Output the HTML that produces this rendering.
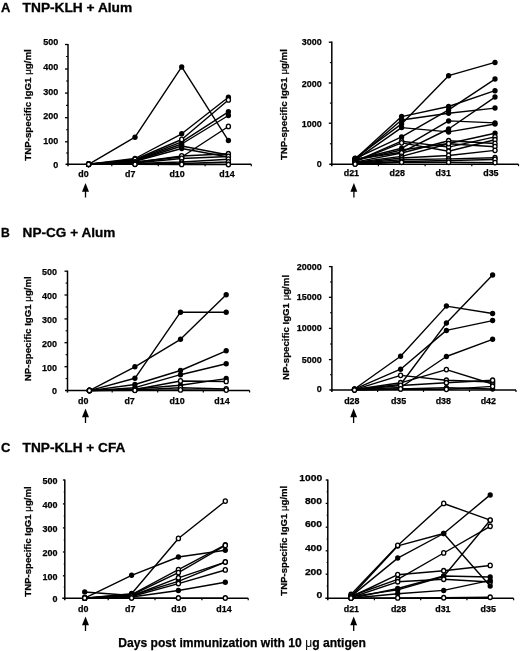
<!DOCTYPE html>
<html><head><meta charset="utf-8"><title>Figure</title>
<style>
html,body{margin:0;padding:0;background:#fff;}
body{width:520px;height:651px;overflow:hidden;font-family:"Liberation Sans", sans-serif;}
svg{display:block;font-family:"Liberation Sans", sans-serif;filter:grayscale(1) blur(0.45px);}
svg text{font-family:"Liberation Sans", sans-serif;fill:#000;}
</style></head><body>
<svg width="520" height="651" viewBox="0 0 520 651">
<rect width="520" height="651" fill="#fff"/>
<text x="0.9" y="11.8" font-size="12.8" font-weight="bold" text-anchor="start" stroke="#000" stroke-width="0.3" textLength="9.4" lengthAdjust="spacingAndGlyphs">A</text>
<text x="22.6" y="11.8" font-size="12.8" font-weight="bold" text-anchor="start" stroke="#000" stroke-width="0.3" textLength="109.6" lengthAdjust="spacingAndGlyphs">TNP-KLH + Alum</text>
<text x="0.9" y="237.1" font-size="12.8" font-weight="bold" text-anchor="start" stroke="#000" stroke-width="0.3" textLength="8.8" lengthAdjust="spacingAndGlyphs">B</text>
<text x="22.6" y="237.1" font-size="12.8" font-weight="bold" text-anchor="start" stroke="#000" stroke-width="0.3" textLength="92.8" lengthAdjust="spacingAndGlyphs">NP-CG + Alum</text>
<text x="0.9" y="452.2" font-size="12.8" font-weight="bold" text-anchor="start" stroke="#000" stroke-width="0.3" textLength="9.4" lengthAdjust="spacingAndGlyphs">C</text>
<text x="22.6" y="452.2" font-size="12.8" font-weight="bold" text-anchor="start" stroke="#000" stroke-width="0.3" textLength="102.8" lengthAdjust="spacingAndGlyphs">TNP-KLH + CFA</text>
<text x="118.2" y="646.6" font-size="12" font-weight="bold" text-anchor="start" stroke="#000" stroke-width="0.25" textLength="247.8" lengthAdjust="spacingAndGlyphs">Days post immunization with 10 <tspan font-weight="normal" stroke="none">&#956;</tspan>g antigen</text>
<line x1="68.0" y1="43.9" x2="68.0" y2="166.3" stroke="#000" stroke-width="1.5"/>
<line x1="65.5" y1="164.3" x2="251.3" y2="164.3" stroke="#000" stroke-width="1.5"/>
<line x1="68.0" y1="44.5" x2="65.0" y2="44.5" stroke="#000" stroke-width="1.3"/>
<line x1="68.0" y1="69.0" x2="65.0" y2="69.0" stroke="#000" stroke-width="1.3"/>
<line x1="68.0" y1="93.1" x2="65.0" y2="93.1" stroke="#000" stroke-width="1.3"/>
<line x1="68.0" y1="117.7" x2="65.0" y2="117.7" stroke="#000" stroke-width="1.3"/>
<line x1="68.0" y1="141.8" x2="65.0" y2="141.8" stroke="#000" stroke-width="1.3"/>
<line x1="68.0" y1="56.5" x2="66.1" y2="56.5" stroke="#000" stroke-width="1.1"/>
<line x1="68.0" y1="81.0" x2="66.1" y2="81.0" stroke="#000" stroke-width="1.1"/>
<line x1="68.0" y1="105.4" x2="66.1" y2="105.4" stroke="#000" stroke-width="1.1"/>
<line x1="68.0" y1="129.8" x2="66.1" y2="129.8" stroke="#000" stroke-width="1.1"/>
<line x1="68.0" y1="153.0" x2="66.1" y2="153.0" stroke="#000" stroke-width="1.1"/>
<line x1="111.8" y1="164.3" x2="111.8" y2="166.3" stroke="#000" stroke-width="1.2"/>
<line x1="158.3" y1="164.3" x2="158.3" y2="166.3" stroke="#000" stroke-width="1.2"/>
<line x1="205.1" y1="164.3" x2="205.1" y2="166.3" stroke="#000" stroke-width="1.2"/>
<line x1="251.3" y1="164.3" x2="251.3" y2="166.3" stroke="#000" stroke-width="1.2"/>
<text x="43.2" y="45.3" font-size="9.81" font-weight="bold" text-anchor="start" stroke="#000" stroke-width="0.25" textLength="15.0" lengthAdjust="spacingAndGlyphs">500</text>
<text x="43.2" y="70.0" font-size="9.81" font-weight="bold" text-anchor="start" stroke="#000" stroke-width="0.25" textLength="15.0" lengthAdjust="spacingAndGlyphs">400</text>
<text x="43.2" y="94.6" font-size="9.81" font-weight="bold" text-anchor="start" stroke="#000" stroke-width="0.25" textLength="15.0" lengthAdjust="spacingAndGlyphs">300</text>
<text x="43.2" y="118.5" font-size="9.81" font-weight="bold" text-anchor="start" stroke="#000" stroke-width="0.25" textLength="15.0" lengthAdjust="spacingAndGlyphs">200</text>
<text x="43.2" y="143.8" font-size="9.81" font-weight="bold" text-anchor="start" stroke="#000" stroke-width="0.25" textLength="15.0" lengthAdjust="spacingAndGlyphs">100</text>
<text x="53.2" y="167.8" font-size="9.81" font-weight="bold" text-anchor="start" stroke="#000" stroke-width="0.25" textLength="5.0" lengthAdjust="spacingAndGlyphs">0</text>
<text x="83.5" y="176.9" font-size="8.9" font-weight="bold" text-anchor="middle" stroke="#000" stroke-width="0.25">d0</text>
<text x="130.2" y="176.9" font-size="8.9" font-weight="bold" text-anchor="middle" stroke="#000" stroke-width="0.25">d7</text>
<text x="177.1" y="176.9" font-size="8.9" font-weight="bold" text-anchor="middle" stroke="#000" stroke-width="0.25">d10</text>
<text x="227.0" y="176.9" font-size="8.9" font-weight="bold" text-anchor="middle" stroke="#000" stroke-width="0.25">d14</text>
<text transform="translate(31.0,105.0) rotate(-90)" font-size="9.7" font-weight="bold" stroke="#000" stroke-width="0.25" text-anchor="middle" textLength="111.5" lengthAdjust="spacingAndGlyphs">TNP-specific IgG1 <tspan font-weight="normal">&#956;</tspan>g/ml</text>
<path d="M88.6 164.3 L135.0 137.2 L181.7 66.9 L228.4 140.6" fill="none" stroke="#000" stroke-width="1.4" stroke-linejoin="round"/>
<ellipse cx="88.6" cy="164.3" rx="2.65" ry="2.75" fill="#000"/>
<ellipse cx="135.0" cy="137.2" rx="2.65" ry="2.75" fill="#000"/>
<ellipse cx="181.7" cy="66.9" rx="2.65" ry="2.75" fill="#000"/>
<ellipse cx="228.4" cy="140.6" rx="2.65" ry="2.75" fill="#000"/>
<path d="M88.6 164.3 L135.0 158.5 L181.7 133.8 L228.4 97.3" fill="none" stroke="#000" stroke-width="1.4" stroke-linejoin="round"/>
<ellipse cx="88.6" cy="164.3" rx="2.65" ry="2.75" fill="#000"/>
<ellipse cx="135.0" cy="158.5" rx="2.65" ry="2.75" fill="#000"/>
<ellipse cx="181.7" cy="133.8" rx="2.65" ry="2.75" fill="#000"/>
<ellipse cx="228.4" cy="97.3" rx="2.65" ry="2.75" fill="#000"/>
<path d="M88.6 164.3 L135.0 160.0 L181.7 141.8 L228.4 111.8" fill="none" stroke="#000" stroke-width="1.4" stroke-linejoin="round"/>
<ellipse cx="88.6" cy="164.3" rx="2.65" ry="2.75" fill="#000"/>
<ellipse cx="135.0" cy="160.0" rx="2.65" ry="2.75" fill="#000"/>
<ellipse cx="181.7" cy="141.8" rx="2.65" ry="2.75" fill="#000"/>
<ellipse cx="228.4" cy="111.8" rx="2.65" ry="2.75" fill="#000"/>
<path d="M88.6 164.3 L135.0 160.5 L181.7 144.0 L228.4 115.5" fill="none" stroke="#000" stroke-width="1.4" stroke-linejoin="round"/>
<ellipse cx="88.6" cy="164.3" rx="2.65" ry="2.75" fill="#000"/>
<ellipse cx="135.0" cy="160.5" rx="2.65" ry="2.75" fill="#000"/>
<ellipse cx="181.7" cy="144.0" rx="2.65" ry="2.75" fill="#000"/>
<ellipse cx="228.4" cy="115.5" rx="2.65" ry="2.75" fill="#000"/>
<path d="M88.6 164.3 L135.0 161.0 L181.7 146.0 L228.4 155.0" fill="none" stroke="#000" stroke-width="1.4" stroke-linejoin="round"/>
<ellipse cx="88.6" cy="164.3" rx="2.65" ry="2.75" fill="#000"/>
<ellipse cx="135.0" cy="161.0" rx="2.65" ry="2.75" fill="#000"/>
<ellipse cx="181.7" cy="146.0" rx="2.65" ry="2.75" fill="#000"/>
<ellipse cx="228.4" cy="155.0" rx="2.65" ry="2.75" fill="#000"/>
<path d="M88.6 164.3 L135.0 161.3 L181.7 148.5 L228.4 157.0" fill="none" stroke="#000" stroke-width="1.4" stroke-linejoin="round"/>
<ellipse cx="88.6" cy="164.3" rx="2.65" ry="2.75" fill="#000"/>
<ellipse cx="135.0" cy="161.3" rx="2.65" ry="2.75" fill="#000"/>
<ellipse cx="181.7" cy="148.5" rx="2.65" ry="2.75" fill="#000"/>
<ellipse cx="228.4" cy="157.0" rx="2.65" ry="2.75" fill="#000"/>
<path d="M88.6 164.3 L135.0 159.5 L181.7 139.5 L228.4 100.0" fill="none" stroke="#000" stroke-width="1.4" stroke-linejoin="round"/>
<ellipse cx="88.6" cy="164.2" rx="2.05" ry="2.25" fill="#fff" stroke="#000" stroke-width="1.35"/>
<ellipse cx="135.0" cy="159.4" rx="2.05" ry="2.25" fill="#fff" stroke="#000" stroke-width="1.35"/>
<ellipse cx="181.7" cy="139.4" rx="2.05" ry="2.25" fill="#fff" stroke="#000" stroke-width="1.35"/>
<ellipse cx="228.4" cy="99.9" rx="2.05" ry="2.25" fill="#fff" stroke="#000" stroke-width="1.35"/>
<path d="M88.6 164.3 L135.0 162.0 L181.7 157.0 L228.4 126.5" fill="none" stroke="#000" stroke-width="1.4" stroke-linejoin="round"/>
<ellipse cx="88.6" cy="164.2" rx="2.05" ry="2.25" fill="#fff" stroke="#000" stroke-width="1.35"/>
<ellipse cx="135.0" cy="161.9" rx="2.05" ry="2.25" fill="#fff" stroke="#000" stroke-width="1.35"/>
<ellipse cx="181.7" cy="156.9" rx="2.05" ry="2.25" fill="#fff" stroke="#000" stroke-width="1.35"/>
<ellipse cx="228.4" cy="126.4" rx="2.05" ry="2.25" fill="#fff" stroke="#000" stroke-width="1.35"/>
<path d="M88.6 164.3 L135.0 162.5 L181.7 156.0 L228.4 153.8" fill="none" stroke="#000" stroke-width="1.4" stroke-linejoin="round"/>
<ellipse cx="88.6" cy="164.2" rx="2.05" ry="2.25" fill="#fff" stroke="#000" stroke-width="1.35"/>
<ellipse cx="135.0" cy="162.4" rx="2.05" ry="2.25" fill="#fff" stroke="#000" stroke-width="1.35"/>
<ellipse cx="181.7" cy="155.9" rx="2.05" ry="2.25" fill="#fff" stroke="#000" stroke-width="1.35"/>
<ellipse cx="228.4" cy="153.7" rx="2.05" ry="2.25" fill="#fff" stroke="#000" stroke-width="1.35"/>
<path d="M88.6 164.3 L135.0 163.0 L181.7 158.5 L228.4 156.5" fill="none" stroke="#000" stroke-width="1.4" stroke-linejoin="round"/>
<ellipse cx="88.6" cy="164.2" rx="2.05" ry="2.25" fill="#fff" stroke="#000" stroke-width="1.35"/>
<ellipse cx="135.0" cy="162.9" rx="2.05" ry="2.25" fill="#fff" stroke="#000" stroke-width="1.35"/>
<ellipse cx="181.7" cy="158.4" rx="2.05" ry="2.25" fill="#fff" stroke="#000" stroke-width="1.35"/>
<ellipse cx="228.4" cy="156.4" rx="2.05" ry="2.25" fill="#fff" stroke="#000" stroke-width="1.35"/>
<path d="M88.6 164.3 L135.0 163.5 L181.7 162.0 L228.4 159.2" fill="none" stroke="#000" stroke-width="1.4" stroke-linejoin="round"/>
<ellipse cx="88.6" cy="164.2" rx="2.05" ry="2.25" fill="#fff" stroke="#000" stroke-width="1.35"/>
<ellipse cx="135.0" cy="163.4" rx="2.05" ry="2.25" fill="#fff" stroke="#000" stroke-width="1.35"/>
<ellipse cx="181.7" cy="161.9" rx="2.05" ry="2.25" fill="#fff" stroke="#000" stroke-width="1.35"/>
<ellipse cx="228.4" cy="159.1" rx="2.05" ry="2.25" fill="#fff" stroke="#000" stroke-width="1.35"/>
<path d="M88.6 164.3 L135.0 164.0 L181.7 163.5 L228.4 162.0" fill="none" stroke="#000" stroke-width="1.4" stroke-linejoin="round"/>
<ellipse cx="88.6" cy="164.2" rx="2.05" ry="2.25" fill="#fff" stroke="#000" stroke-width="1.35"/>
<ellipse cx="135.0" cy="163.9" rx="2.05" ry="2.25" fill="#fff" stroke="#000" stroke-width="1.35"/>
<ellipse cx="181.7" cy="163.4" rx="2.05" ry="2.25" fill="#fff" stroke="#000" stroke-width="1.35"/>
<ellipse cx="228.4" cy="161.9" rx="2.05" ry="2.25" fill="#fff" stroke="#000" stroke-width="1.35"/>
<path d="M88.6 164.3 L135.0 164.3 L181.7 164.5 L228.4 164.6" fill="none" stroke="#000" stroke-width="1.4" stroke-linejoin="round"/>
<ellipse cx="88.6" cy="164.2" rx="2.05" ry="2.25" fill="#fff" stroke="#000" stroke-width="1.35"/>
<ellipse cx="135.0" cy="164.2" rx="2.05" ry="2.25" fill="#fff" stroke="#000" stroke-width="1.35"/>
<ellipse cx="181.7" cy="164.4" rx="2.05" ry="2.25" fill="#fff" stroke="#000" stroke-width="1.35"/>
<ellipse cx="228.4" cy="164.5" rx="2.05" ry="2.25" fill="#fff" stroke="#000" stroke-width="1.35"/>
<path d="M85.5 183.1 L89.0 191.8 L82.0 191.8 Z" fill="#000"/>
<line x1="85.5" y1="190.4" x2="85.5" y2="197.5" stroke="#000" stroke-width="1.3"/>
<line x1="331.8" y1="41.6" x2="331.8" y2="166.2" stroke="#000" stroke-width="1.5"/>
<line x1="329.3" y1="164.2" x2="518.5" y2="164.2" stroke="#000" stroke-width="1.5"/>
<line x1="331.8" y1="42.2" x2="328.8" y2="42.2" stroke="#000" stroke-width="1.3"/>
<line x1="331.8" y1="83.0" x2="328.8" y2="83.0" stroke="#000" stroke-width="1.3"/>
<line x1="331.8" y1="123.2" x2="328.8" y2="123.2" stroke="#000" stroke-width="1.3"/>
<line x1="331.8" y1="62.6" x2="329.9" y2="62.6" stroke="#000" stroke-width="1.1"/>
<line x1="331.8" y1="103.1" x2="329.9" y2="103.1" stroke="#000" stroke-width="1.1"/>
<line x1="331.8" y1="143.8" x2="329.9" y2="143.8" stroke="#000" stroke-width="1.1"/>
<line x1="378.4" y1="164.2" x2="378.4" y2="166.2" stroke="#000" stroke-width="1.2"/>
<line x1="425.1" y1="164.2" x2="425.1" y2="166.2" stroke="#000" stroke-width="1.2"/>
<line x1="471.8" y1="164.2" x2="471.8" y2="166.2" stroke="#000" stroke-width="1.2"/>
<line x1="518.5" y1="164.2" x2="518.5" y2="166.2" stroke="#000" stroke-width="1.2"/>
<text x="301.7" y="45.1" font-size="9.81" font-weight="bold" text-anchor="start" stroke="#000" stroke-width="0.25" textLength="20.0" lengthAdjust="spacingAndGlyphs">3000</text>
<text x="301.7" y="86.8" font-size="9.81" font-weight="bold" text-anchor="start" stroke="#000" stroke-width="0.25" textLength="20.0" lengthAdjust="spacingAndGlyphs">2000</text>
<text x="301.7" y="126.6" font-size="9.81" font-weight="bold" text-anchor="start" stroke="#000" stroke-width="0.25" textLength="20.0" lengthAdjust="spacingAndGlyphs">1000</text>
<text x="316.7" y="167.3" font-size="9.81" font-weight="bold" text-anchor="start" stroke="#000" stroke-width="0.25" textLength="5.0" lengthAdjust="spacingAndGlyphs">0</text>
<text x="351.4" y="176.0" font-size="8.9" font-weight="bold" text-anchor="middle" stroke="#000" stroke-width="0.25">d21</text>
<text x="397.2" y="176.0" font-size="8.9" font-weight="bold" text-anchor="middle" stroke="#000" stroke-width="0.25">d28</text>
<text x="443.2" y="176.0" font-size="8.9" font-weight="bold" text-anchor="middle" stroke="#000" stroke-width="0.25">d31</text>
<text x="490.9" y="176.0" font-size="8.9" font-weight="bold" text-anchor="middle" stroke="#000" stroke-width="0.25">d35</text>
<text transform="translate(287.4,104.6) rotate(-90)" font-size="9.7" font-weight="bold" stroke="#000" stroke-width="0.25" text-anchor="middle" textLength="111" lengthAdjust="spacingAndGlyphs">TNP-specific IgG1 <tspan font-weight="normal">&#956;</tspan>g/ml</text>
<path d="M355.1 158.3 L401.6 123.9 L448.6 75.7 L495.0 62.4" fill="none" stroke="#000" stroke-width="1.4" stroke-linejoin="round"/>
<ellipse cx="355.1" cy="158.3" rx="2.65" ry="2.75" fill="#000"/>
<ellipse cx="401.6" cy="123.9" rx="2.65" ry="2.75" fill="#000"/>
<ellipse cx="448.6" cy="75.7" rx="2.65" ry="2.75" fill="#000"/>
<ellipse cx="495.0" cy="62.4" rx="2.65" ry="2.75" fill="#000"/>
<path d="M355.1 158.6 L401.6 136.9 L448.6 109.9 L495.0 79.1" fill="none" stroke="#000" stroke-width="1.4" stroke-linejoin="round"/>
<ellipse cx="355.1" cy="158.6" rx="2.65" ry="2.75" fill="#000"/>
<ellipse cx="401.6" cy="136.9" rx="2.65" ry="2.75" fill="#000"/>
<ellipse cx="448.6" cy="109.9" rx="2.65" ry="2.75" fill="#000"/>
<ellipse cx="495.0" cy="79.1" rx="2.65" ry="2.75" fill="#000"/>
<path d="M355.1 158.9 L401.6 116.6 L448.6 106.5 L495.0 90.7" fill="none" stroke="#000" stroke-width="1.4" stroke-linejoin="round"/>
<ellipse cx="355.1" cy="158.9" rx="2.65" ry="2.75" fill="#000"/>
<ellipse cx="401.6" cy="116.6" rx="2.65" ry="2.75" fill="#000"/>
<ellipse cx="448.6" cy="106.5" rx="2.65" ry="2.75" fill="#000"/>
<ellipse cx="495.0" cy="90.7" rx="2.65" ry="2.75" fill="#000"/>
<path d="M355.1 159.2 L401.6 152.2 L448.6 129.0 L495.0 97.1" fill="none" stroke="#000" stroke-width="1.4" stroke-linejoin="round"/>
<ellipse cx="355.1" cy="159.2" rx="2.65" ry="2.75" fill="#000"/>
<ellipse cx="401.6" cy="152.2" rx="2.65" ry="2.75" fill="#000"/>
<ellipse cx="448.6" cy="129.0" rx="2.65" ry="2.75" fill="#000"/>
<ellipse cx="495.0" cy="97.1" rx="2.65" ry="2.75" fill="#000"/>
<path d="M355.1 159.5 L401.6 120.0 L448.6 113.3 L495.0 108.1" fill="none" stroke="#000" stroke-width="1.4" stroke-linejoin="round"/>
<ellipse cx="355.1" cy="159.5" rx="2.65" ry="2.75" fill="#000"/>
<ellipse cx="401.6" cy="120.0" rx="2.65" ry="2.75" fill="#000"/>
<ellipse cx="448.6" cy="113.3" rx="2.65" ry="2.75" fill="#000"/>
<ellipse cx="495.0" cy="108.1" rx="2.65" ry="2.75" fill="#000"/>
<path d="M355.1 159.8 L401.6 148.3 L448.6 120.9 L495.0 122.9" fill="none" stroke="#000" stroke-width="1.4" stroke-linejoin="round"/>
<ellipse cx="355.1" cy="159.8" rx="2.65" ry="2.75" fill="#000"/>
<ellipse cx="401.6" cy="148.3" rx="2.65" ry="2.75" fill="#000"/>
<ellipse cx="448.6" cy="120.9" rx="2.65" ry="2.75" fill="#000"/>
<ellipse cx="495.0" cy="122.9" rx="2.65" ry="2.75" fill="#000"/>
<path d="M355.1 160.1 L401.6 127.6 L448.6 131.9 L495.0 124.0" fill="none" stroke="#000" stroke-width="1.4" stroke-linejoin="round"/>
<ellipse cx="355.1" cy="160.1" rx="2.65" ry="2.75" fill="#000"/>
<ellipse cx="401.6" cy="127.6" rx="2.65" ry="2.75" fill="#000"/>
<ellipse cx="448.6" cy="131.9" rx="2.65" ry="2.75" fill="#000"/>
<ellipse cx="495.0" cy="124.0" rx="2.65" ry="2.75" fill="#000"/>
<path d="M355.1 160.4 L401.6 150.0 L448.6 143.5 L495.0 133.2" fill="none" stroke="#000" stroke-width="1.4" stroke-linejoin="round"/>
<ellipse cx="355.1" cy="160.4" rx="2.65" ry="2.75" fill="#000"/>
<ellipse cx="401.6" cy="150.0" rx="2.65" ry="2.75" fill="#000"/>
<ellipse cx="448.6" cy="143.5" rx="2.65" ry="2.75" fill="#000"/>
<ellipse cx="495.0" cy="133.2" rx="2.65" ry="2.75" fill="#000"/>
<path d="M355.1 161.3 L401.6 141.2 L448.6 147.1 L495.0 136.9" fill="none" stroke="#000" stroke-width="1.4" stroke-linejoin="round"/>
<ellipse cx="355.1" cy="161.2" rx="2.05" ry="2.25" fill="#fff" stroke="#000" stroke-width="1.35"/>
<ellipse cx="401.6" cy="141.1" rx="2.05" ry="2.25" fill="#fff" stroke="#000" stroke-width="1.35"/>
<ellipse cx="448.6" cy="147.0" rx="2.05" ry="2.25" fill="#fff" stroke="#000" stroke-width="1.35"/>
<ellipse cx="495.0" cy="136.8" rx="2.05" ry="2.25" fill="#fff" stroke="#000" stroke-width="1.35"/>
<path d="M355.1 161.7 L401.6 142.9 L448.6 151.3 L495.0 139.8" fill="none" stroke="#000" stroke-width="1.4" stroke-linejoin="round"/>
<ellipse cx="355.1" cy="161.6" rx="2.05" ry="2.25" fill="#fff" stroke="#000" stroke-width="1.35"/>
<ellipse cx="401.6" cy="142.8" rx="2.05" ry="2.25" fill="#fff" stroke="#000" stroke-width="1.35"/>
<ellipse cx="448.6" cy="151.2" rx="2.05" ry="2.25" fill="#fff" stroke="#000" stroke-width="1.35"/>
<ellipse cx="495.0" cy="139.7" rx="2.05" ry="2.25" fill="#fff" stroke="#000" stroke-width="1.35"/>
<path d="M355.1 162.1 L401.6 153.0 L448.6 140.8 L495.0 143.5" fill="none" stroke="#000" stroke-width="1.4" stroke-linejoin="round"/>
<ellipse cx="355.1" cy="162.0" rx="2.05" ry="2.25" fill="#fff" stroke="#000" stroke-width="1.35"/>
<ellipse cx="401.6" cy="152.9" rx="2.05" ry="2.25" fill="#fff" stroke="#000" stroke-width="1.35"/>
<ellipse cx="448.6" cy="140.7" rx="2.05" ry="2.25" fill="#fff" stroke="#000" stroke-width="1.35"/>
<ellipse cx="495.0" cy="143.4" rx="2.05" ry="2.25" fill="#fff" stroke="#000" stroke-width="1.35"/>
<path d="M355.1 162.5 L401.6 156.4 L448.6 143.7 L495.0 146.7" fill="none" stroke="#000" stroke-width="1.4" stroke-linejoin="round"/>
<ellipse cx="355.1" cy="162.4" rx="2.05" ry="2.25" fill="#fff" stroke="#000" stroke-width="1.35"/>
<ellipse cx="401.6" cy="156.3" rx="2.05" ry="2.25" fill="#fff" stroke="#000" stroke-width="1.35"/>
<ellipse cx="448.6" cy="143.6" rx="2.05" ry="2.25" fill="#fff" stroke="#000" stroke-width="1.35"/>
<ellipse cx="495.0" cy="146.6" rx="2.05" ry="2.25" fill="#fff" stroke="#000" stroke-width="1.35"/>
<path d="M355.1 163.0 L401.6 158.0 L448.6 155.5 L495.0 150.4" fill="none" stroke="#000" stroke-width="1.4" stroke-linejoin="round"/>
<ellipse cx="355.1" cy="162.9" rx="2.05" ry="2.25" fill="#fff" stroke="#000" stroke-width="1.35"/>
<ellipse cx="401.6" cy="157.9" rx="2.05" ry="2.25" fill="#fff" stroke="#000" stroke-width="1.35"/>
<ellipse cx="448.6" cy="155.4" rx="2.05" ry="2.25" fill="#fff" stroke="#000" stroke-width="1.35"/>
<ellipse cx="495.0" cy="150.3" rx="2.05" ry="2.25" fill="#fff" stroke="#000" stroke-width="1.35"/>
<path d="M355.1 163.4 L401.6 159.8 L448.6 158.9 L495.0 157.8" fill="none" stroke="#000" stroke-width="1.4" stroke-linejoin="round"/>
<ellipse cx="355.1" cy="163.3" rx="2.05" ry="2.25" fill="#fff" stroke="#000" stroke-width="1.35"/>
<ellipse cx="401.6" cy="159.7" rx="2.05" ry="2.25" fill="#fff" stroke="#000" stroke-width="1.35"/>
<ellipse cx="448.6" cy="158.8" rx="2.05" ry="2.25" fill="#fff" stroke="#000" stroke-width="1.35"/>
<ellipse cx="495.0" cy="157.7" rx="2.05" ry="2.25" fill="#fff" stroke="#000" stroke-width="1.35"/>
<path d="M355.1 163.8 L401.6 161.5 L448.6 160.5 L495.0 159.5" fill="none" stroke="#000" stroke-width="1.4" stroke-linejoin="round"/>
<ellipse cx="355.1" cy="163.7" rx="2.05" ry="2.25" fill="#fff" stroke="#000" stroke-width="1.35"/>
<ellipse cx="401.6" cy="161.4" rx="2.05" ry="2.25" fill="#fff" stroke="#000" stroke-width="1.35"/>
<ellipse cx="448.6" cy="160.4" rx="2.05" ry="2.25" fill="#fff" stroke="#000" stroke-width="1.35"/>
<ellipse cx="495.0" cy="159.4" rx="2.05" ry="2.25" fill="#fff" stroke="#000" stroke-width="1.35"/>
<path d="M355.1 164.2 L401.6 162.3 L448.6 162.3 L495.0 162.7" fill="none" stroke="#000" stroke-width="1.4" stroke-linejoin="round"/>
<ellipse cx="355.1" cy="164.1" rx="2.05" ry="2.25" fill="#fff" stroke="#000" stroke-width="1.35"/>
<ellipse cx="401.6" cy="162.2" rx="2.05" ry="2.25" fill="#fff" stroke="#000" stroke-width="1.35"/>
<ellipse cx="448.6" cy="162.2" rx="2.05" ry="2.25" fill="#fff" stroke="#000" stroke-width="1.35"/>
<ellipse cx="495.0" cy="162.6" rx="2.05" ry="2.25" fill="#fff" stroke="#000" stroke-width="1.35"/>
<path d="M353.9 183.1 L357.3 191.8 L350.4 191.8 Z" fill="#000"/>
<line x1="353.9" y1="190.4" x2="353.9" y2="197.5" stroke="#000" stroke-width="1.3"/>
<line x1="67.5" y1="270.6" x2="67.5" y2="392.6" stroke="#000" stroke-width="1.5"/>
<line x1="65.0" y1="390.6" x2="249.6" y2="390.6" stroke="#000" stroke-width="1.5"/>
<line x1="67.5" y1="271.2" x2="64.5" y2="271.2" stroke="#000" stroke-width="1.3"/>
<line x1="67.5" y1="295.0" x2="64.5" y2="295.0" stroke="#000" stroke-width="1.3"/>
<line x1="67.5" y1="318.9" x2="64.5" y2="318.9" stroke="#000" stroke-width="1.3"/>
<line x1="67.5" y1="342.7" x2="64.5" y2="342.7" stroke="#000" stroke-width="1.3"/>
<line x1="67.5" y1="366.7" x2="64.5" y2="366.7" stroke="#000" stroke-width="1.3"/>
<line x1="67.5" y1="283.1" x2="65.6" y2="283.1" stroke="#000" stroke-width="1.1"/>
<line x1="67.5" y1="307.0" x2="65.6" y2="307.0" stroke="#000" stroke-width="1.1"/>
<line x1="67.5" y1="330.8" x2="65.6" y2="330.8" stroke="#000" stroke-width="1.1"/>
<line x1="67.5" y1="354.7" x2="65.6" y2="354.7" stroke="#000" stroke-width="1.1"/>
<line x1="67.5" y1="378.6" x2="65.6" y2="378.6" stroke="#000" stroke-width="1.1"/>
<line x1="112.2" y1="390.6" x2="112.2" y2="392.6" stroke="#000" stroke-width="1.2"/>
<line x1="157.7" y1="390.6" x2="157.7" y2="392.6" stroke="#000" stroke-width="1.2"/>
<line x1="203.3" y1="390.6" x2="203.3" y2="392.6" stroke="#000" stroke-width="1.2"/>
<line x1="249.6" y1="390.6" x2="249.6" y2="392.6" stroke="#000" stroke-width="1.2"/>
<text x="42.0" y="275.4" font-size="9.81" font-weight="bold" text-anchor="start" stroke="#000" stroke-width="0.25" textLength="15.0" lengthAdjust="spacingAndGlyphs">500</text>
<text x="42.0" y="299.1" font-size="9.81" font-weight="bold" text-anchor="start" stroke="#000" stroke-width="0.25" textLength="15.0" lengthAdjust="spacingAndGlyphs">400</text>
<text x="42.0" y="322.8" font-size="9.81" font-weight="bold" text-anchor="start" stroke="#000" stroke-width="0.25" textLength="15.0" lengthAdjust="spacingAndGlyphs">300</text>
<text x="42.0" y="346.6" font-size="9.81" font-weight="bold" text-anchor="start" stroke="#000" stroke-width="0.25" textLength="15.0" lengthAdjust="spacingAndGlyphs">200</text>
<text x="42.0" y="370.5" font-size="9.81" font-weight="bold" text-anchor="start" stroke="#000" stroke-width="0.25" textLength="15.0" lengthAdjust="spacingAndGlyphs">100</text>
<text x="52.0" y="393.5" font-size="9.81" font-weight="bold" text-anchor="start" stroke="#000" stroke-width="0.25" textLength="5.0" lengthAdjust="spacingAndGlyphs">0</text>
<text x="83.2" y="404.3" font-size="8.9" font-weight="bold" text-anchor="middle" stroke="#000" stroke-width="0.25">d0</text>
<text x="129.6" y="404.3" font-size="8.9" font-weight="bold" text-anchor="middle" stroke="#000" stroke-width="0.25">d7</text>
<text x="177.1" y="404.3" font-size="8.9" font-weight="bold" text-anchor="middle" stroke="#000" stroke-width="0.25">d10</text>
<text x="222.0" y="404.3" font-size="8.9" font-weight="bold" text-anchor="middle" stroke="#000" stroke-width="0.25">d14</text>
<text transform="translate(31.0,328.7) rotate(-90)" font-size="9.7" font-weight="bold" stroke="#000" stroke-width="0.25" text-anchor="middle" textLength="105" lengthAdjust="spacingAndGlyphs">NP-specific IgG1 <tspan font-weight="normal">&#956;</tspan>g/ml</text>
<path d="M89.4 390.6 L134.9 366.8 L180.5 339.3 L226.2 294.8" fill="none" stroke="#000" stroke-width="1.4" stroke-linejoin="round"/>
<ellipse cx="89.4" cy="390.6" rx="2.65" ry="2.75" fill="#000"/>
<ellipse cx="134.9" cy="366.8" rx="2.65" ry="2.75" fill="#000"/>
<ellipse cx="180.5" cy="339.3" rx="2.65" ry="2.75" fill="#000"/>
<ellipse cx="226.2" cy="294.8" rx="2.65" ry="2.75" fill="#000"/>
<path d="M89.4 390.6 L134.9 378.3 L180.5 312.2 L226.2 312.2" fill="none" stroke="#000" stroke-width="1.4" stroke-linejoin="round"/>
<ellipse cx="89.4" cy="390.6" rx="2.65" ry="2.75" fill="#000"/>
<ellipse cx="134.9" cy="378.3" rx="2.65" ry="2.75" fill="#000"/>
<ellipse cx="180.5" cy="312.2" rx="2.65" ry="2.75" fill="#000"/>
<ellipse cx="226.2" cy="312.2" rx="2.65" ry="2.75" fill="#000"/>
<path d="M89.4 390.6 L134.9 384.5 L180.5 370.5 L226.2 350.8" fill="none" stroke="#000" stroke-width="1.4" stroke-linejoin="round"/>
<ellipse cx="89.4" cy="390.6" rx="2.65" ry="2.75" fill="#000"/>
<ellipse cx="134.9" cy="384.5" rx="2.65" ry="2.75" fill="#000"/>
<ellipse cx="180.5" cy="370.5" rx="2.65" ry="2.75" fill="#000"/>
<ellipse cx="226.2" cy="350.8" rx="2.65" ry="2.75" fill="#000"/>
<path d="M89.4 390.6 L134.9 387.7 L180.5 374.7 L226.2 363.8" fill="none" stroke="#000" stroke-width="1.4" stroke-linejoin="round"/>
<ellipse cx="89.4" cy="390.6" rx="2.65" ry="2.75" fill="#000"/>
<ellipse cx="134.9" cy="387.7" rx="2.65" ry="2.75" fill="#000"/>
<ellipse cx="180.5" cy="374.7" rx="2.65" ry="2.75" fill="#000"/>
<ellipse cx="226.2" cy="363.8" rx="2.65" ry="2.75" fill="#000"/>
<path d="M89.4 390.6 L134.9 389.0 L180.5 385.2 L226.2 378.6" fill="none" stroke="#000" stroke-width="1.4" stroke-linejoin="round"/>
<ellipse cx="89.4" cy="390.6" rx="2.65" ry="2.75" fill="#000"/>
<ellipse cx="134.9" cy="389.0" rx="2.65" ry="2.75" fill="#000"/>
<ellipse cx="180.5" cy="385.2" rx="2.65" ry="2.75" fill="#000"/>
<ellipse cx="226.2" cy="378.6" rx="2.65" ry="2.75" fill="#000"/>
<path d="M89.4 390.6 L134.9 389.5 L180.5 381.0 L226.2 381.5" fill="none" stroke="#000" stroke-width="1.4" stroke-linejoin="round"/>
<ellipse cx="89.4" cy="390.5" rx="2.05" ry="2.25" fill="#fff" stroke="#000" stroke-width="1.35"/>
<ellipse cx="134.9" cy="389.4" rx="2.05" ry="2.25" fill="#fff" stroke="#000" stroke-width="1.35"/>
<ellipse cx="180.5" cy="380.9" rx="2.05" ry="2.25" fill="#fff" stroke="#000" stroke-width="1.35"/>
<ellipse cx="226.2" cy="381.4" rx="2.05" ry="2.25" fill="#fff" stroke="#000" stroke-width="1.35"/>
<path d="M89.4 390.6 L134.9 390.0 L180.5 387.7 L226.2 389.0" fill="none" stroke="#000" stroke-width="1.4" stroke-linejoin="round"/>
<ellipse cx="89.4" cy="390.5" rx="2.05" ry="2.25" fill="#fff" stroke="#000" stroke-width="1.35"/>
<ellipse cx="134.9" cy="389.9" rx="2.05" ry="2.25" fill="#fff" stroke="#000" stroke-width="1.35"/>
<ellipse cx="180.5" cy="387.6" rx="2.05" ry="2.25" fill="#fff" stroke="#000" stroke-width="1.35"/>
<ellipse cx="226.2" cy="388.9" rx="2.05" ry="2.25" fill="#fff" stroke="#000" stroke-width="1.35"/>
<path d="M89.4 390.6 L134.9 390.4 L180.5 390.0 L226.2 390.2" fill="none" stroke="#000" stroke-width="1.4" stroke-linejoin="round"/>
<ellipse cx="89.4" cy="390.5" rx="2.05" ry="2.25" fill="#fff" stroke="#000" stroke-width="1.35"/>
<ellipse cx="134.9" cy="390.3" rx="2.05" ry="2.25" fill="#fff" stroke="#000" stroke-width="1.35"/>
<ellipse cx="180.5" cy="389.9" rx="2.05" ry="2.25" fill="#fff" stroke="#000" stroke-width="1.35"/>
<ellipse cx="226.2" cy="390.1" rx="2.05" ry="2.25" fill="#fff" stroke="#000" stroke-width="1.35"/>
<path d="M85.5 408.6 L89.0 417.3 L82.0 417.3 Z" fill="#000"/>
<line x1="85.5" y1="415.9" x2="85.5" y2="423.0" stroke="#000" stroke-width="1.3"/>
<line x1="331.9" y1="266.0" x2="331.9" y2="391.9" stroke="#000" stroke-width="1.5"/>
<line x1="329.4" y1="389.9" x2="516.0" y2="389.9" stroke="#000" stroke-width="1.5"/>
<line x1="331.9" y1="266.6" x2="328.9" y2="266.6" stroke="#000" stroke-width="1.3"/>
<line x1="331.9" y1="297.3" x2="328.9" y2="297.3" stroke="#000" stroke-width="1.3"/>
<line x1="331.9" y1="328.4" x2="328.9" y2="328.4" stroke="#000" stroke-width="1.3"/>
<line x1="331.9" y1="359.6" x2="328.9" y2="359.6" stroke="#000" stroke-width="1.3"/>
<line x1="331.9" y1="282.0" x2="330.0" y2="282.0" stroke="#000" stroke-width="1.1"/>
<line x1="331.9" y1="312.8" x2="330.0" y2="312.8" stroke="#000" stroke-width="1.1"/>
<line x1="331.9" y1="344.0" x2="330.0" y2="344.0" stroke="#000" stroke-width="1.1"/>
<line x1="331.9" y1="374.8" x2="330.0" y2="374.8" stroke="#000" stroke-width="1.1"/>
<line x1="377.6" y1="389.9" x2="377.6" y2="391.9" stroke="#000" stroke-width="1.2"/>
<line x1="423.5" y1="389.9" x2="423.5" y2="391.9" stroke="#000" stroke-width="1.2"/>
<line x1="469.5" y1="389.9" x2="469.5" y2="391.9" stroke="#000" stroke-width="1.2"/>
<line x1="516.0" y1="389.9" x2="516.0" y2="391.9" stroke="#000" stroke-width="1.2"/>
<text x="296.7" y="270.1" font-size="9.81" font-weight="bold" text-anchor="start" stroke="#000" stroke-width="0.25" textLength="25.0" lengthAdjust="spacingAndGlyphs">20000</text>
<text x="296.7" y="300.3" font-size="9.81" font-weight="bold" text-anchor="start" stroke="#000" stroke-width="0.25" textLength="25.0" lengthAdjust="spacingAndGlyphs">15000</text>
<text x="296.7" y="331.1" font-size="9.81" font-weight="bold" text-anchor="start" stroke="#000" stroke-width="0.25" textLength="25.0" lengthAdjust="spacingAndGlyphs">10000</text>
<text x="301.7" y="362.5" font-size="9.81" font-weight="bold" text-anchor="start" stroke="#000" stroke-width="0.25" textLength="20.0" lengthAdjust="spacingAndGlyphs">5000</text>
<text x="316.7" y="392.3" font-size="9.81" font-weight="bold" text-anchor="start" stroke="#000" stroke-width="0.25" textLength="5.0" lengthAdjust="spacingAndGlyphs">0</text>
<text x="351.8" y="404.1" font-size="8.9" font-weight="bold" text-anchor="middle" stroke="#000" stroke-width="0.25">d28</text>
<text x="398.6" y="404.1" font-size="8.9" font-weight="bold" text-anchor="middle" stroke="#000" stroke-width="0.25">d35</text>
<text x="443.3" y="404.1" font-size="8.9" font-weight="bold" text-anchor="middle" stroke="#000" stroke-width="0.25">d38</text>
<text x="488.3" y="404.1" font-size="8.9" font-weight="bold" text-anchor="middle" stroke="#000" stroke-width="0.25">d42</text>
<text transform="translate(288.6,327.4) rotate(-90)" font-size="9.7" font-weight="bold" stroke="#000" stroke-width="0.25" text-anchor="middle" textLength="105" lengthAdjust="spacingAndGlyphs">NP-specific IgG1 <tspan font-weight="normal">&#956;</tspan>g/ml</text>
<path d="M354.5 389.0 L400.6 356.2 L446.4 306.1 L492.6 313.5" fill="none" stroke="#000" stroke-width="1.4" stroke-linejoin="round"/>
<ellipse cx="354.5" cy="389.0" rx="2.65" ry="2.75" fill="#000"/>
<ellipse cx="400.6" cy="356.2" rx="2.65" ry="2.75" fill="#000"/>
<ellipse cx="446.4" cy="306.1" rx="2.65" ry="2.75" fill="#000"/>
<ellipse cx="492.6" cy="313.5" rx="2.65" ry="2.75" fill="#000"/>
<path d="M354.5 389.2 L400.6 369.2 L446.4 330.4 L492.6 320.6" fill="none" stroke="#000" stroke-width="1.4" stroke-linejoin="round"/>
<ellipse cx="354.5" cy="389.2" rx="2.65" ry="2.75" fill="#000"/>
<ellipse cx="400.6" cy="369.2" rx="2.65" ry="2.75" fill="#000"/>
<ellipse cx="446.4" cy="330.4" rx="2.65" ry="2.75" fill="#000"/>
<ellipse cx="492.6" cy="320.6" rx="2.65" ry="2.75" fill="#000"/>
<path d="M354.5 389.4 L400.6 384.5 L446.4 323.1 L492.6 275.1" fill="none" stroke="#000" stroke-width="1.4" stroke-linejoin="round"/>
<ellipse cx="354.5" cy="389.4" rx="2.65" ry="2.75" fill="#000"/>
<ellipse cx="400.6" cy="384.5" rx="2.65" ry="2.75" fill="#000"/>
<ellipse cx="446.4" cy="323.1" rx="2.65" ry="2.75" fill="#000"/>
<ellipse cx="492.6" cy="275.1" rx="2.65" ry="2.75" fill="#000"/>
<path d="M354.5 389.6 L400.6 387.5 L446.4 356.5 L492.6 339.3" fill="none" stroke="#000" stroke-width="1.4" stroke-linejoin="round"/>
<ellipse cx="354.5" cy="389.6" rx="2.65" ry="2.75" fill="#000"/>
<ellipse cx="400.6" cy="387.5" rx="2.65" ry="2.75" fill="#000"/>
<ellipse cx="446.4" cy="356.5" rx="2.65" ry="2.75" fill="#000"/>
<ellipse cx="492.6" cy="339.3" rx="2.65" ry="2.75" fill="#000"/>
<path d="M354.5 389.8 L400.6 389.0 L446.4 387.7 L492.6 389.0" fill="none" stroke="#000" stroke-width="1.4" stroke-linejoin="round"/>
<ellipse cx="354.5" cy="389.8" rx="2.65" ry="2.75" fill="#000"/>
<ellipse cx="400.6" cy="389.0" rx="2.65" ry="2.75" fill="#000"/>
<ellipse cx="446.4" cy="387.7" rx="2.65" ry="2.75" fill="#000"/>
<ellipse cx="492.6" cy="389.0" rx="2.65" ry="2.75" fill="#000"/>
<path d="M354.5 389.5 L400.6 382.8 L446.4 369.7 L492.6 384.0" fill="none" stroke="#000" stroke-width="1.4" stroke-linejoin="round"/>
<ellipse cx="354.5" cy="389.4" rx="2.05" ry="2.25" fill="#fff" stroke="#000" stroke-width="1.35"/>
<ellipse cx="400.6" cy="382.7" rx="2.05" ry="2.25" fill="#fff" stroke="#000" stroke-width="1.35"/>
<ellipse cx="446.4" cy="369.6" rx="2.05" ry="2.25" fill="#fff" stroke="#000" stroke-width="1.35"/>
<ellipse cx="492.6" cy="383.9" rx="2.05" ry="2.25" fill="#fff" stroke="#000" stroke-width="1.35"/>
<path d="M354.5 389.7 L400.6 375.4 L446.4 380.3 L492.6 382.0" fill="none" stroke="#000" stroke-width="1.4" stroke-linejoin="round"/>
<ellipse cx="354.5" cy="389.6" rx="2.05" ry="2.25" fill="#fff" stroke="#000" stroke-width="1.35"/>
<ellipse cx="400.6" cy="375.3" rx="2.05" ry="2.25" fill="#fff" stroke="#000" stroke-width="1.35"/>
<ellipse cx="446.4" cy="380.2" rx="2.05" ry="2.25" fill="#fff" stroke="#000" stroke-width="1.35"/>
<ellipse cx="492.6" cy="381.9" rx="2.05" ry="2.25" fill="#fff" stroke="#000" stroke-width="1.35"/>
<path d="M354.5 389.9 L400.6 385.5 L446.4 382.8 L492.6 380.3" fill="none" stroke="#000" stroke-width="1.4" stroke-linejoin="round"/>
<ellipse cx="354.5" cy="389.8" rx="2.05" ry="2.25" fill="#fff" stroke="#000" stroke-width="1.35"/>
<ellipse cx="400.6" cy="385.4" rx="2.05" ry="2.25" fill="#fff" stroke="#000" stroke-width="1.35"/>
<ellipse cx="446.4" cy="382.7" rx="2.05" ry="2.25" fill="#fff" stroke="#000" stroke-width="1.35"/>
<ellipse cx="492.6" cy="380.2" rx="2.05" ry="2.25" fill="#fff" stroke="#000" stroke-width="1.35"/>
<path d="M354.5 390.1 L400.6 389.0 L446.4 389.4 L492.6 386.4" fill="none" stroke="#000" stroke-width="1.4" stroke-linejoin="round"/>
<ellipse cx="354.5" cy="390.0" rx="2.05" ry="2.25" fill="#fff" stroke="#000" stroke-width="1.35"/>
<ellipse cx="400.6" cy="388.9" rx="2.05" ry="2.25" fill="#fff" stroke="#000" stroke-width="1.35"/>
<ellipse cx="446.4" cy="389.3" rx="2.05" ry="2.25" fill="#fff" stroke="#000" stroke-width="1.35"/>
<ellipse cx="492.6" cy="386.3" rx="2.05" ry="2.25" fill="#fff" stroke="#000" stroke-width="1.35"/>
<path d="M353.6 408.6 L357.1 417.3 L350.2 417.3 Z" fill="#000"/>
<line x1="353.6" y1="415.9" x2="353.6" y2="423.0" stroke="#000" stroke-width="1.3"/>
<line x1="64.8" y1="479.4" x2="64.8" y2="600.3" stroke="#000" stroke-width="1.5"/>
<line x1="62.3" y1="598.3" x2="248.2" y2="598.3" stroke="#000" stroke-width="1.5"/>
<line x1="64.8" y1="480.0" x2="62.9" y2="480.0" stroke="#000" stroke-width="1.3"/>
<line x1="64.8" y1="503.9" x2="62.9" y2="503.9" stroke="#000" stroke-width="1.3"/>
<line x1="64.8" y1="527.9" x2="62.9" y2="527.9" stroke="#000" stroke-width="1.3"/>
<line x1="64.8" y1="552.0" x2="62.9" y2="552.0" stroke="#000" stroke-width="1.3"/>
<line x1="64.8" y1="575.8" x2="62.9" y2="575.8" stroke="#000" stroke-width="1.3"/>
<line x1="64.8" y1="492.0" x2="63.7" y2="492.0" stroke="#000" stroke-width="1.1"/>
<line x1="64.8" y1="516.0" x2="63.7" y2="516.0" stroke="#000" stroke-width="1.1"/>
<line x1="64.8" y1="540.0" x2="63.7" y2="540.0" stroke="#000" stroke-width="1.1"/>
<line x1="64.8" y1="564.0" x2="63.7" y2="564.0" stroke="#000" stroke-width="1.1"/>
<line x1="64.8" y1="587.0" x2="63.7" y2="587.0" stroke="#000" stroke-width="1.1"/>
<line x1="108.2" y1="598.3" x2="108.2" y2="600.3" stroke="#000" stroke-width="1.2"/>
<line x1="155.0" y1="598.3" x2="155.0" y2="600.3" stroke="#000" stroke-width="1.2"/>
<line x1="201.9" y1="598.3" x2="201.9" y2="600.3" stroke="#000" stroke-width="1.2"/>
<line x1="248.2" y1="598.3" x2="248.2" y2="600.3" stroke="#000" stroke-width="1.2"/>
<text x="42.6" y="484.4" font-size="9.81" font-weight="bold" text-anchor="start" stroke="#000" stroke-width="0.25" textLength="15.0" lengthAdjust="spacingAndGlyphs">500</text>
<text x="42.6" y="508.0" font-size="9.81" font-weight="bold" text-anchor="start" stroke="#000" stroke-width="0.25" textLength="15.0" lengthAdjust="spacingAndGlyphs">400</text>
<text x="42.6" y="531.9" font-size="9.81" font-weight="bold" text-anchor="start" stroke="#000" stroke-width="0.25" textLength="15.0" lengthAdjust="spacingAndGlyphs">300</text>
<text x="42.6" y="556.0" font-size="9.81" font-weight="bold" text-anchor="start" stroke="#000" stroke-width="0.25" textLength="15.0" lengthAdjust="spacingAndGlyphs">200</text>
<text x="42.6" y="580.3" font-size="9.81" font-weight="bold" text-anchor="start" stroke="#000" stroke-width="0.25" textLength="15.0" lengthAdjust="spacingAndGlyphs">100</text>
<text x="52.6" y="602.4" font-size="9.81" font-weight="bold" text-anchor="start" stroke="#000" stroke-width="0.25" textLength="5.0" lengthAdjust="spacingAndGlyphs">0</text>
<text x="83.2" y="612.1" font-size="8.9" font-weight="bold" text-anchor="middle" stroke="#000" stroke-width="0.25">d0</text>
<text x="130.3" y="612.1" font-size="8.9" font-weight="bold" text-anchor="middle" stroke="#000" stroke-width="0.25">d7</text>
<text x="178.8" y="612.1" font-size="8.9" font-weight="bold" text-anchor="middle" stroke="#000" stroke-width="0.25">d10</text>
<text x="224.0" y="612.1" font-size="8.9" font-weight="bold" text-anchor="middle" stroke="#000" stroke-width="0.25">d14</text>
<text transform="translate(31.0,541.5) rotate(-90)" font-size="9.7" font-weight="bold" stroke="#000" stroke-width="0.25" text-anchor="middle" textLength="110.5" lengthAdjust="spacingAndGlyphs">TNP-specific IgG1 <tspan font-weight="normal">&#956;</tspan>g/ml</text>
<path d="M84.7 598.1 L131.6 575.3 L178.4 557.0 L225.3 550.3" fill="none" stroke="#000" stroke-width="1.4" stroke-linejoin="round"/>
<ellipse cx="84.7" cy="598.1" rx="2.65" ry="2.75" fill="#000"/>
<ellipse cx="131.6" cy="575.3" rx="2.65" ry="2.75" fill="#000"/>
<ellipse cx="178.4" cy="557.0" rx="2.65" ry="2.75" fill="#000"/>
<ellipse cx="225.3" cy="550.3" rx="2.65" ry="2.75" fill="#000"/>
<path d="M84.7 592.0 L131.6 595.5 L178.4 581.3 L225.3 562.1" fill="none" stroke="#000" stroke-width="1.4" stroke-linejoin="round"/>
<ellipse cx="84.7" cy="592.0" rx="2.65" ry="2.75" fill="#000"/>
<ellipse cx="131.6" cy="595.5" rx="2.65" ry="2.75" fill="#000"/>
<ellipse cx="178.4" cy="581.3" rx="2.65" ry="2.75" fill="#000"/>
<ellipse cx="225.3" cy="562.1" rx="2.65" ry="2.75" fill="#000"/>
<path d="M84.7 598.1 L131.6 597.0 L178.4 590.5 L225.3 582.3" fill="none" stroke="#000" stroke-width="1.4" stroke-linejoin="round"/>
<ellipse cx="84.7" cy="598.1" rx="2.65" ry="2.75" fill="#000"/>
<ellipse cx="131.6" cy="597.0" rx="2.65" ry="2.75" fill="#000"/>
<ellipse cx="178.4" cy="590.5" rx="2.65" ry="2.75" fill="#000"/>
<ellipse cx="225.3" cy="582.3" rx="2.65" ry="2.75" fill="#000"/>
<path d="M84.7 598.1 L131.6 593.8 L178.4 538.5 L225.3 501.2" fill="none" stroke="#000" stroke-width="1.4" stroke-linejoin="round"/>
<ellipse cx="84.7" cy="598.0" rx="2.05" ry="2.25" fill="#fff" stroke="#000" stroke-width="1.35"/>
<ellipse cx="131.6" cy="593.7" rx="2.05" ry="2.25" fill="#fff" stroke="#000" stroke-width="1.35"/>
<ellipse cx="178.4" cy="538.4" rx="2.05" ry="2.25" fill="#fff" stroke="#000" stroke-width="1.35"/>
<ellipse cx="225.3" cy="501.1" rx="2.05" ry="2.25" fill="#fff" stroke="#000" stroke-width="1.35"/>
<path d="M84.7 598.1 L131.6 594.5 L178.4 569.7 L225.3 544.9" fill="none" stroke="#000" stroke-width="1.4" stroke-linejoin="round"/>
<ellipse cx="84.7" cy="598.0" rx="2.05" ry="2.25" fill="#fff" stroke="#000" stroke-width="1.35"/>
<ellipse cx="131.6" cy="594.4" rx="2.05" ry="2.25" fill="#fff" stroke="#000" stroke-width="1.35"/>
<ellipse cx="178.4" cy="569.6" rx="2.05" ry="2.25" fill="#fff" stroke="#000" stroke-width="1.35"/>
<ellipse cx="225.3" cy="544.8" rx="2.05" ry="2.25" fill="#fff" stroke="#000" stroke-width="1.35"/>
<path d="M84.7 598.1 L131.6 595.0 L178.4 572.7 L225.3 545.5" fill="none" stroke="#000" stroke-width="1.4" stroke-linejoin="round"/>
<ellipse cx="84.7" cy="598.0" rx="2.05" ry="2.25" fill="#fff" stroke="#000" stroke-width="1.35"/>
<ellipse cx="131.6" cy="594.9" rx="2.05" ry="2.25" fill="#fff" stroke="#000" stroke-width="1.35"/>
<ellipse cx="178.4" cy="572.6" rx="2.05" ry="2.25" fill="#fff" stroke="#000" stroke-width="1.35"/>
<ellipse cx="225.3" cy="545.4" rx="2.05" ry="2.25" fill="#fff" stroke="#000" stroke-width="1.35"/>
<path d="M84.7 598.1 L131.6 596.0 L178.4 577.8 L225.3 562.1" fill="none" stroke="#000" stroke-width="1.4" stroke-linejoin="round"/>
<ellipse cx="84.7" cy="598.0" rx="2.05" ry="2.25" fill="#fff" stroke="#000" stroke-width="1.35"/>
<ellipse cx="131.6" cy="595.9" rx="2.05" ry="2.25" fill="#fff" stroke="#000" stroke-width="1.35"/>
<ellipse cx="178.4" cy="577.7" rx="2.05" ry="2.25" fill="#fff" stroke="#000" stroke-width="1.35"/>
<ellipse cx="225.3" cy="562.0" rx="2.05" ry="2.25" fill="#fff" stroke="#000" stroke-width="1.35"/>
<path d="M84.7 598.1 L131.6 596.5 L178.4 583.6 L225.3 570.0" fill="none" stroke="#000" stroke-width="1.4" stroke-linejoin="round"/>
<ellipse cx="84.7" cy="598.0" rx="2.05" ry="2.25" fill="#fff" stroke="#000" stroke-width="1.35"/>
<ellipse cx="131.6" cy="596.4" rx="2.05" ry="2.25" fill="#fff" stroke="#000" stroke-width="1.35"/>
<ellipse cx="178.4" cy="583.5" rx="2.05" ry="2.25" fill="#fff" stroke="#000" stroke-width="1.35"/>
<ellipse cx="225.3" cy="569.9" rx="2.05" ry="2.25" fill="#fff" stroke="#000" stroke-width="1.35"/>
<path d="M84.7 598.1 L131.6 598.1 L178.4 598.1 L225.3 598.1" fill="none" stroke="#000" stroke-width="1.4" stroke-linejoin="round"/>
<ellipse cx="84.7" cy="598.0" rx="2.05" ry="2.25" fill="#fff" stroke="#000" stroke-width="1.35"/>
<ellipse cx="131.6" cy="598.0" rx="2.05" ry="2.25" fill="#fff" stroke="#000" stroke-width="1.35"/>
<ellipse cx="178.4" cy="598.0" rx="2.05" ry="2.25" fill="#fff" stroke="#000" stroke-width="1.35"/>
<ellipse cx="225.3" cy="598.0" rx="2.05" ry="2.25" fill="#fff" stroke="#000" stroke-width="1.35"/>
<path d="M85.5 616.6 L89.0 625.3 L82.0 625.3 Z" fill="#000"/>
<line x1="85.5" y1="623.9" x2="85.5" y2="631.0" stroke="#000" stroke-width="1.3"/>
<line x1="327.8" y1="479.4" x2="327.8" y2="600.2" stroke="#000" stroke-width="1.5"/>
<line x1="325.3" y1="598.2" x2="513.6" y2="598.2" stroke="#000" stroke-width="1.5"/>
<line x1="327.8" y1="480.0" x2="325.7" y2="480.0" stroke="#000" stroke-width="1.3"/>
<line x1="327.8" y1="503.4" x2="325.7" y2="503.4" stroke="#000" stroke-width="1.3"/>
<line x1="327.8" y1="527.2" x2="325.7" y2="527.2" stroke="#000" stroke-width="1.3"/>
<line x1="327.8" y1="550.8" x2="325.7" y2="550.8" stroke="#000" stroke-width="1.3"/>
<line x1="327.8" y1="574.2" x2="325.7" y2="574.2" stroke="#000" stroke-width="1.3"/>
<line x1="327.8" y1="491.7" x2="326.6" y2="491.7" stroke="#000" stroke-width="1.1"/>
<line x1="327.8" y1="515.3" x2="326.6" y2="515.3" stroke="#000" stroke-width="1.1"/>
<line x1="327.8" y1="539.0" x2="326.6" y2="539.0" stroke="#000" stroke-width="1.1"/>
<line x1="327.8" y1="562.5" x2="326.6" y2="562.5" stroke="#000" stroke-width="1.1"/>
<line x1="327.8" y1="586.0" x2="326.6" y2="586.0" stroke="#000" stroke-width="1.1"/>
<line x1="374.4" y1="598.2" x2="374.4" y2="600.2" stroke="#000" stroke-width="1.2"/>
<line x1="420.7" y1="598.2" x2="420.7" y2="600.2" stroke="#000" stroke-width="1.2"/>
<line x1="466.9" y1="598.2" x2="466.9" y2="600.2" stroke="#000" stroke-width="1.2"/>
<line x1="513.6" y1="598.2" x2="513.6" y2="600.2" stroke="#000" stroke-width="1.2"/>
<text x="299.2" y="480.8" font-size="9.9" font-weight="bold" text-anchor="start" stroke="#000" stroke-width="0.25" textLength="23.0" lengthAdjust="spacingAndGlyphs">1000</text>
<text x="304.9" y="504.0" font-size="9.9" font-weight="bold" text-anchor="start" stroke="#000" stroke-width="0.25" textLength="17.2" lengthAdjust="spacingAndGlyphs">800</text>
<text x="304.9" y="527.4" font-size="9.9" font-weight="bold" text-anchor="start" stroke="#000" stroke-width="0.25" textLength="17.2" lengthAdjust="spacingAndGlyphs">600</text>
<text x="304.9" y="550.8" font-size="9.9" font-weight="bold" text-anchor="start" stroke="#000" stroke-width="0.25" textLength="17.2" lengthAdjust="spacingAndGlyphs">400</text>
<text x="304.9" y="574.5" font-size="9.9" font-weight="bold" text-anchor="start" stroke="#000" stroke-width="0.25" textLength="17.2" lengthAdjust="spacingAndGlyphs">200</text>
<text x="316.4" y="597.6" font-size="9.9" font-weight="bold" text-anchor="start" stroke="#000" stroke-width="0.25" textLength="5.8" lengthAdjust="spacingAndGlyphs">0</text>
<text x="351.4" y="611.8" font-size="8.9" font-weight="bold" text-anchor="middle" stroke="#000" stroke-width="0.25">d21</text>
<text x="398.6" y="611.8" font-size="8.9" font-weight="bold" text-anchor="middle" stroke="#000" stroke-width="0.25">d28</text>
<text x="442.9" y="611.8" font-size="8.9" font-weight="bold" text-anchor="middle" stroke="#000" stroke-width="0.25">d31</text>
<text x="488.2" y="611.8" font-size="8.9" font-weight="bold" text-anchor="middle" stroke="#000" stroke-width="0.25">d35</text>
<text transform="translate(287.4,540.7) rotate(-90)" font-size="9.7" font-weight="bold" stroke="#000" stroke-width="0.25" text-anchor="middle" textLength="110" lengthAdjust="spacingAndGlyphs">TNP-specific IgG1 <tspan font-weight="normal">&#956;</tspan>g/ml</text>
<path d="M351.0 596.4 L397.7 545.9 L443.7 533.5 L490.2 586.0" fill="none" stroke="#000" stroke-width="1.4" stroke-linejoin="round"/>
<ellipse cx="351.0" cy="596.4" rx="2.65" ry="2.75" fill="#000"/>
<ellipse cx="397.7" cy="545.9" rx="2.65" ry="2.75" fill="#000"/>
<ellipse cx="443.7" cy="533.5" rx="2.65" ry="2.75" fill="#000"/>
<ellipse cx="490.2" cy="586.0" rx="2.65" ry="2.75" fill="#000"/>
<path d="M351.0 596.4 L397.7 558.1 L443.7 533.5 L490.2 494.9" fill="none" stroke="#000" stroke-width="1.4" stroke-linejoin="round"/>
<ellipse cx="351.0" cy="596.4" rx="2.65" ry="2.75" fill="#000"/>
<ellipse cx="397.7" cy="558.1" rx="2.65" ry="2.75" fill="#000"/>
<ellipse cx="443.7" cy="533.5" rx="2.65" ry="2.75" fill="#000"/>
<ellipse cx="490.2" cy="494.9" rx="2.65" ry="2.75" fill="#000"/>
<path d="M351.0 596.6 L397.7 589.9 L443.7 576.5 L490.2 520.2" fill="none" stroke="#000" stroke-width="1.4" stroke-linejoin="round"/>
<ellipse cx="351.0" cy="596.6" rx="2.65" ry="2.75" fill="#000"/>
<ellipse cx="397.7" cy="589.9" rx="2.65" ry="2.75" fill="#000"/>
<ellipse cx="443.7" cy="576.5" rx="2.65" ry="2.75" fill="#000"/>
<ellipse cx="490.2" cy="520.2" rx="2.65" ry="2.75" fill="#000"/>
<path d="M351.0 594.6 L397.7 545.4 L443.7 503.5 L490.2 520.2" fill="none" stroke="#000" stroke-width="1.4" stroke-linejoin="round"/>
<ellipse cx="351.0" cy="594.5" rx="2.05" ry="2.25" fill="#fff" stroke="#000" stroke-width="1.35"/>
<ellipse cx="397.7" cy="545.3" rx="2.05" ry="2.25" fill="#fff" stroke="#000" stroke-width="1.35"/>
<ellipse cx="443.7" cy="503.4" rx="2.05" ry="2.25" fill="#fff" stroke="#000" stroke-width="1.35"/>
<ellipse cx="490.2" cy="520.1" rx="2.05" ry="2.25" fill="#fff" stroke="#000" stroke-width="1.35"/>
<path d="M351.0 596.0 L397.7 579.3 L443.7 553.0 L490.2 526.3" fill="none" stroke="#000" stroke-width="1.4" stroke-linejoin="round"/>
<ellipse cx="351.0" cy="595.9" rx="2.05" ry="2.25" fill="#fff" stroke="#000" stroke-width="1.35"/>
<ellipse cx="397.7" cy="579.2" rx="2.05" ry="2.25" fill="#fff" stroke="#000" stroke-width="1.35"/>
<ellipse cx="443.7" cy="552.9" rx="2.05" ry="2.25" fill="#fff" stroke="#000" stroke-width="1.35"/>
<ellipse cx="490.2" cy="526.2" rx="2.05" ry="2.25" fill="#fff" stroke="#000" stroke-width="1.35"/>
<path d="M351.0 597.0 L397.7 574.7 L443.7 570.8 L490.2 565.5" fill="none" stroke="#000" stroke-width="1.4" stroke-linejoin="round"/>
<ellipse cx="351.0" cy="596.9" rx="2.05" ry="2.25" fill="#fff" stroke="#000" stroke-width="1.35"/>
<ellipse cx="397.7" cy="574.6" rx="2.05" ry="2.25" fill="#fff" stroke="#000" stroke-width="1.35"/>
<ellipse cx="443.7" cy="570.7" rx="2.05" ry="2.25" fill="#fff" stroke="#000" stroke-width="1.35"/>
<ellipse cx="490.2" cy="565.4" rx="2.05" ry="2.25" fill="#fff" stroke="#000" stroke-width="1.35"/>
<path d="M351.0 598.2 L397.7 588.5 L443.7 576.0 L490.2 577.0" fill="none" stroke="#000" stroke-width="1.4" stroke-linejoin="round"/>
<ellipse cx="351.0" cy="598.2" rx="2.65" ry="2.75" fill="#000"/>
<ellipse cx="397.7" cy="588.5" rx="2.65" ry="2.75" fill="#000"/>
<ellipse cx="443.7" cy="576.0" rx="2.65" ry="2.75" fill="#000"/>
<ellipse cx="490.2" cy="577.0" rx="2.65" ry="2.75" fill="#000"/>
<path d="M351.0 597.5 L397.7 581.8 L443.7 579.3 L490.2 582.0" fill="none" stroke="#000" stroke-width="1.4" stroke-linejoin="round"/>
<ellipse cx="351.0" cy="597.4" rx="2.05" ry="2.25" fill="#fff" stroke="#000" stroke-width="1.35"/>
<ellipse cx="397.7" cy="581.7" rx="2.05" ry="2.25" fill="#fff" stroke="#000" stroke-width="1.35"/>
<ellipse cx="443.7" cy="579.2" rx="2.05" ry="2.25" fill="#fff" stroke="#000" stroke-width="1.35"/>
<ellipse cx="490.2" cy="581.9" rx="2.05" ry="2.25" fill="#fff" stroke="#000" stroke-width="1.35"/>
<path d="M351.0 598.2 L397.7 593.8 L443.7 590.4 L490.2 580.4" fill="none" stroke="#000" stroke-width="1.4" stroke-linejoin="round"/>
<ellipse cx="351.0" cy="598.2" rx="2.65" ry="2.75" fill="#000"/>
<ellipse cx="397.7" cy="593.8" rx="2.65" ry="2.75" fill="#000"/>
<ellipse cx="443.7" cy="590.4" rx="2.65" ry="2.75" fill="#000"/>
<ellipse cx="490.2" cy="580.4" rx="2.65" ry="2.75" fill="#000"/>
<path d="M351.0 598.2 L397.7 598.0 L443.7 597.8 L490.2 597.3" fill="none" stroke="#000" stroke-width="1.4" stroke-linejoin="round"/>
<ellipse cx="351.0" cy="598.1" rx="2.05" ry="2.25" fill="#fff" stroke="#000" stroke-width="1.35"/>
<ellipse cx="397.7" cy="597.9" rx="2.05" ry="2.25" fill="#fff" stroke="#000" stroke-width="1.35"/>
<ellipse cx="443.7" cy="597.7" rx="2.05" ry="2.25" fill="#fff" stroke="#000" stroke-width="1.35"/>
<ellipse cx="490.2" cy="597.2" rx="2.05" ry="2.25" fill="#fff" stroke="#000" stroke-width="1.35"/>
<path d="M353.7 616.6 L357.1 625.3 L350.2 625.3 Z" fill="#000"/>
<line x1="353.7" y1="623.9" x2="353.7" y2="631.0" stroke="#000" stroke-width="1.3"/>
</svg>
</body></html>
